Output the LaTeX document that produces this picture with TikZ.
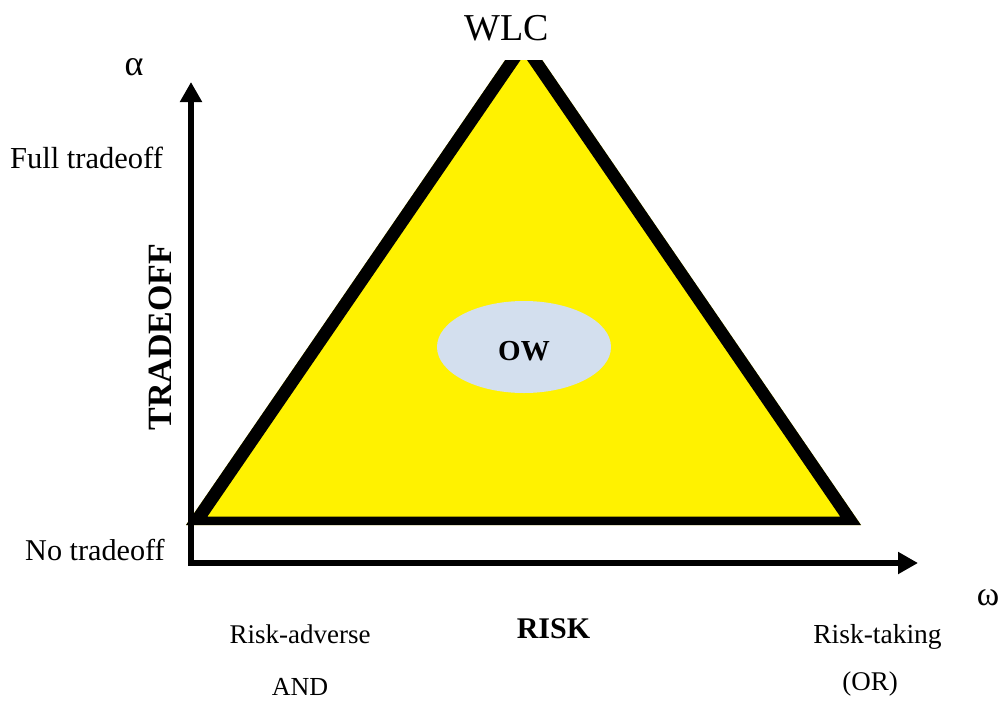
\documentclass[tikz,border=0pt]{standalone}
\usepackage{fontspec}
\setmainfont{Liberation Serif}
\usetikzlibrary{arrows.meta,shapes.geometric}
\newcommand\fsz[1]{\fontsize{#1}{#1}\selectfont}
\definecolor{owblue}{RGB}{211,223,238}
\begin{document}
\begin{tikzpicture}[x=1pt,y=-1pt,
  lbl/.style={inner sep=0pt,anchor=base},
  axisline/.style={line width=5.5pt,line join=miter,
    {Triangle[length=20pt,width=21pt]}-{Triangle[length=20pt,width=21pt]}}]
\useasboundingbox (0,0) rectangle (1003,702);
% triangle (yellow fill with black band)
\begin{scope}
  \clip (0,60) rectangle (1003,702);
  \fill[yellow] (186,525) -- (861,525) -- (523.7,33) -- cycle;
  \fill[black,even odd rule] (186,525) -- (861,525) -- (523.7,33) -- cycle
     (207.3,516.7) -- (840.3,516.7) -- (523.8,55.3) -- cycle;
\end{scope}
% ellipse
\node[ellipse,fill=owblue,minimum width=174pt,minimum height=92pt,inner sep=0pt] (ow) at (524,347) {};
\node[lbl] (owt) at (524,360) {\fsz{29}\bfseries OW};
% axes
\coordinate (o) at (191,563);
\coordinate (ytip) at (191,82);
\coordinate (xtip) at (918,563);
\draw[axisline] (ytip) -- (o) -- (xtip);
% labels
\node[lbl] (wlc) at (507,40) {\fsz{38}WLC};
\node[lbl] (alpha) at (134,75) {\fsz{36}α};
\node[lbl] (omega) at (988,605) {\fsz{34}ω};
\node[lbl,anchor=base west] (full) at (10,168) {\fsz{30.5}Full tradeoff};
\node[lbl,anchor=base west] (no) at (25,560) {\fsz{30.2}No tradeoff};
\node[inner sep=0pt,rotate=90] (trade) at (160,337) {\fsz{34}\bfseries TRADEOFF};
\node[lbl] (ra) at (300,643) {\fsz{27}Risk-adverse};
\node[lbl] (and) at (300,695) {\fsz{26}AND};
\node[lbl] (risk) at (553.5,638) {\fsz{30}\bfseries RISK};
\node[lbl] (rt) at (877.5,643) {\fsz{27.5}Risk-taking};
\node[lbl] (or) at (870,690) {\fsz{27}(OR)};
\end{tikzpicture}
\end{document}
